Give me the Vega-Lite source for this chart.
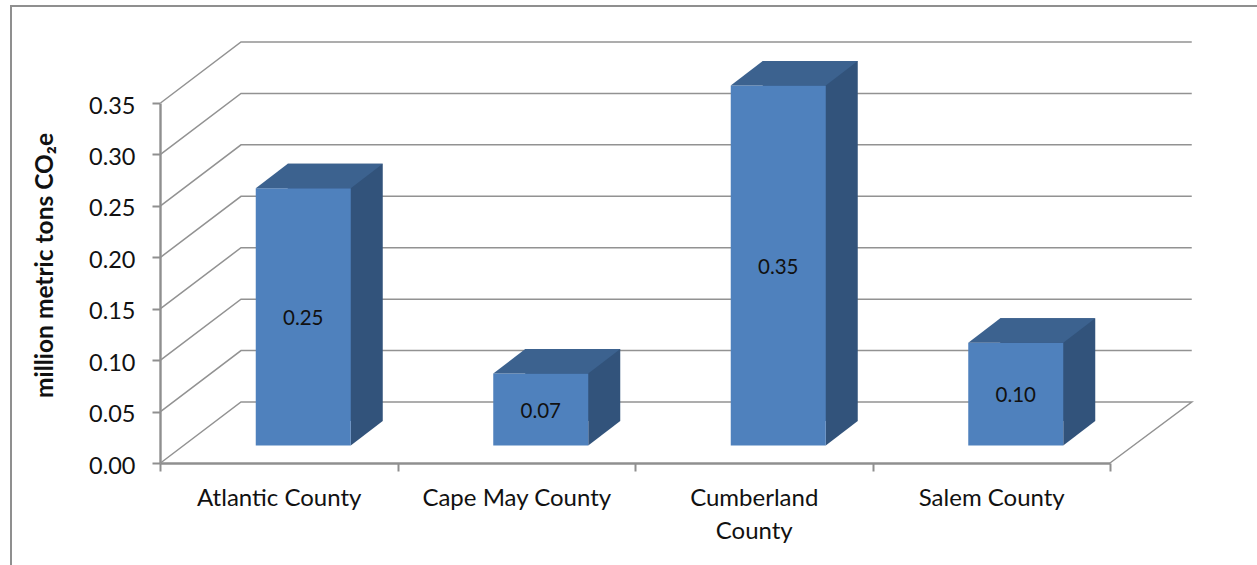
{
  "$schema": "https://vega.github.io/schema/vega-lite/v6.json",
  "width": 950,
  "height": 360,
  "autosize": "none",
  "padding": {"left": 160, "top": 103, "right": 147, "bottom": 102},
  "background": "white",
  "view": {"stroke": null},
  "config": {"font": "Lato"},
  "datasets": {
    "counties": [
      {"county": "Atlantic County", "value": 0.25},
      {"county": "Cape May County", "value": 0.07},
      {"county": "Cumberland County", "value": 0.35},
      {"county": "Salem County", "value": 0.10}
    ],
    "levels": [
      {"level": 0.05}, {"level": 0.10}, {"level": 0.15}, {"level": 0.20},
      {"level": 0.25}, {"level": 0.30}, {"level": 0.35}
    ],
    "floor": [{"level": 0}],
    "outline": [{"level": 0.35}]
  },
  "resolve": {"scale": {"y": "independent"}},
  "layer": [
    {
      "layer": [
        {
          "data": {"name": "outline"},
          "mark": {"type": "point", "size": 4, "filled": false, "opacity": 1, "stroke": "#8f8f8f", "strokeWidth": 2, "clip": false,
            "shape": "M-267.75 462L-267.75 -97L978.25 -97"},
          "encoding": {
            "x": {"datum": "Atlantic County", "type": "nominal"},
            "y": {"field": "level", "type": "quantitative"}
          }
        },
        {
          "data": {"name": "levels"},
          "mark": {"type": "point", "size": 4, "filled": false, "opacity": 1, "stroke": "#929292", "strokeWidth": 1.5, "clip": false,
            "shape": "M-118.25 0L-37.75 -61L913 -61"},
          "encoding": {
            "x": {"datum": "Atlantic County", "type": "nominal"},
            "y": {"field": "level", "type": "quantitative"}
          }
        },
        {
          "data": {"name": "floor"},
          "mark": {"type": "point", "size": 4, "filled": false, "opacity": 1, "stroke": "#929292", "strokeWidth": 1.5, "clip": false,
            "shape": "M-118.25 0L-37.75 -61L913 -61L831.25 0"},
          "encoding": {
            "x": {"datum": "Atlantic County", "type": "nominal"},
            "y": {"field": "level", "type": "quantitative"}
          }
        },
        {
          "data": {"name": "counties"},
          "mark": {"type": "bar", "size": 95, "color": "#32537B", "xOffset": 56.5, "x2Offset": 56.5, "yOffset": -42, "y2Offset": -42},
          "encoding": {
            "x": {
              "field": "county", "type": "nominal", "title": null,
              "scale": {"domain": ["Atlantic County", "Cape May County", "Cumberland County", "Salem County"], "paddingInner": 0, "paddingOuter": 0},
              "axis": {
                "labelAngle": 0, "labelAlign": "center", "labelBaseline": "top", "labelLimit": 400,
                "labelFont": "Lato", "labelFontSize": 24, "labelColor": "#111111", "labelPadding": 15, "labelLineHeight": 33,
                "labelExpr": "datum.value == 'Cumberland County' ? ['Cumberland', 'County'] : datum.value",
                "tickBand": "extent", "tickColor": "#8f8f8f", "tickWidth": 2, "tickSize": 8,
                "domainColor": "#8f8f8f", "domainWidth": 2.4
              }
            },
            "y": {
              "field": "value", "type": "quantitative",
              "title": "million metric tons CO₂e",
              "scale": {"domain": [0, 0.35], "nice": false},
              "axis": {
                "values": [0, 0.05, 0.10, 0.15, 0.20, 0.25, 0.30, 0.35], "format": ".2f", "grid": false,
                "labelFont": "Lato", "labelFontSize": 23.5, "labelColor": "#111111", "labelPadding": 17, "labelOffset": 3,
                "tickColor": "#8f8f8f", "tickWidth": 2, "tickSize": 8,
                "domainColor": "#8f8f8f", "domainWidth": 2.4,
                "titleFont": "Lato", "titleFontSize": 24.5, "titleFontWeight": "bold", "titleColor": "#111111",
                "titleX": -103, "titleY": 162
              }
            }
          }
        },
        {
          "data": {"name": "counties"},
          "mark": {"type": "point", "size": 4, "filled": true, "opacity": 1, "color": "#32537B", "xOffset": 24.5, "yOffset": -17.5,
            "shape": "M47.5 0L79.5 -24.5L47.5 -24.5Z"},
          "encoding": {
            "x": {"field": "county", "type": "nominal"},
            "y": {"datum": 0, "type": "quantitative"}
          }
        },
        {
          "data": {"name": "counties"},
          "mark": {"type": "bar", "size": 95, "color": "#4F81BD", "xOffset": 24.5, "x2Offset": 24.5, "yOffset": -17.5, "y2Offset": -17.5},
          "encoding": {
            "x": {"field": "county", "type": "nominal"},
            "y": {"field": "value", "type": "quantitative"}
          }
        },
        {
          "data": {"name": "counties"},
          "mark": {"type": "point", "size": 4, "filled": true, "opacity": 1, "color": "#3C628F", "xOffset": 24.5, "yOffset": -17.5,
            "shape": "M-47.5 0L47.5 0L79.5 -24.5L-15.5 -24.5Z"},
          "encoding": {
            "x": {"field": "county", "type": "nominal"},
            "y": {"field": "value", "type": "quantitative"}
          }
        }
      ]
    },
    {
      "data": {"name": "counties"},
      "mark": {"type": "text", "font": "Lato", "fontSize": 20.5, "color": "#111111", "align": "center", "baseline": "middle", "xOffset": 24.5},
      "encoding": {
        "x": {"field": "county", "type": "nominal"},
        "y": {"field": "value", "type": "quantitative", "axis": null, "scale": {"domain": [0, 0.35], "range": [344.5, 164.5], "nice": false}},
        "text": {"field": "value", "type": "quantitative", "format": ".2f"}
      }
    }
  ]
}
